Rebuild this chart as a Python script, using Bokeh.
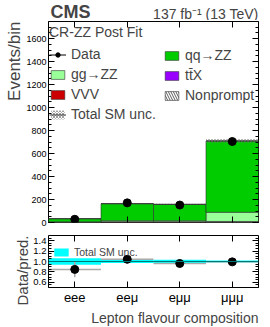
import numpy as np
from bokeh.plotting import figure
from bokeh.layouts import column
from bokeh.models import (Range1d, FixedTicker, SingleIntervalTicker, LinearAxis,
                          Legend, LegendItem, Label, Title, Span, PrintfTickFormatter,
                          CustomJSTickFormatter, CustomLabelingPolicy)
from bokeh.embed import file_html
from bokeh.resources import INLINE

# ---------------- data ----------------
categories = ["eee", "eeμ", "eμμ", "μμμ"]
data = [28, 171, 152, 705]
data_err = [5, 13, 12, 27]
qqzz = [27, 149, 143, 621]
ggzz = [3, 9, 9, 80]
ttx = [0.5, 2, 2, 3]
vvv = [0.5, 1, 1, 2]
nonprompt = [2, 3, 3, 4]
tot_unc = [2, 5, 5, 14]

FONT = "Liberation Sans"

n = len(categories)
left = np.arange(n, dtype=float)
right = left + 1.0
centers = left + 0.5


def style_axis(ax, labels=True, size="9px"):
    ax.major_tick_in = 6
    ax.major_tick_out = 0
    ax.minor_tick_in = 3
    ax.minor_tick_out = 0
    ax.axis_line_color = None
    ax.major_tick_line_color = "black"
    ax.minor_tick_line_color = "black"
    ax.major_label_text_font = FONT
    ax.major_label_text_color = "black"
    ax.major_label_standoff = 2
    if labels:
        ax.major_label_text_font_size = size
    else:
        ax.formatter = CustomJSTickFormatter(code="return ''")
        ax.major_label_policy = CustomLabelingPolicy(
            code="const ids = Array.from(indices); for (const i of ids) indices.unset(i); return indices;")
        ax.major_label_text_font_size = "1px"
        ax.major_label_standoff = 0


# ---------------- header (CMS / luminosity) ----------------
hdr = figure(width=270, height=20, x_range=Range1d(0, n), y_range=Range1d(0, 20),
             output_backend="svg", toolbar_location=None, title=None,
             x_axis_location=None, y_axis_location=None,
             min_border_left=48, min_border_right=12, min_border_top=0, min_border_bottom=0)
hdr.grid.visible = False
hdr.outline_line_color = None
hdr.add_layout(Label(x=0, y=9, text="CMS", text_font=FONT, text_font_style="bold",
                     text_font_size="18px", x_offset=2, text_baseline="middle"))
hdr.add_layout(Label(x=n, y=7, text="137 fb⁻¹ (13 TeV)", text_font=FONT,
                     text_font_size="14px", text_align="right", text_baseline="middle"))

# ---------------- main panel ----------------
p = figure(width=270, height=208, x_range=hdr.x_range, y_range=Range1d(0, 1750),
           output_backend="svg", toolbar_location=None,
           min_border_left=48, min_border_right=12, min_border_top=1, min_border_bottom=6)
p.xgrid.visible = False
p.ygrid.visible = False
p.outline_line_color = "black"
p.background_fill_color = "white"
p.border_fill_color = "white"

p.xaxis.ticker = FixedTicker(ticks=list(centers), minor_ticks=[])
style_axis(p.xaxis[0], labels=False)
p.yaxis.ticker = SingleIntervalTicker(interval=200, num_minor_ticks=4)
style_axis(p.yaxis[0], labels=True, size="9px")

ax_top = LinearAxis(ticker=FixedTicker(ticks=list(centers), minor_ticks=[]))
style_axis(ax_top, labels=False)
p.add_layout(ax_top, "above")
ax_right = LinearAxis(ticker=SingleIntervalTicker(interval=200, num_minor_ticks=4))
style_axis(ax_right, labels=False)
p.add_layout(ax_right, "right")

# stacked components (bottom to top)
components = [
    ("Nonprompt", nonprompt, "white", "left_diagonal_line"),
    ("VVV", vvv, "#cc0000", None),
    ("tt̄X", ttx, "#9900ff", None),
    ("gg→ZZ", ggzz, "#99ff99", None),
    ("qq→ZZ", qqzz, "#00cc00", None),
]
bottom = np.zeros(n)
rend = {}
for name, vals, col, hatch in components:
    top = bottom + np.array(vals, dtype=float)
    kw = dict(left=left, right=right, bottom=bottom, top=top,
              fill_color=col, line_color="#333333", line_width=0.6)
    if hatch:
        kw.update(hatch_pattern=hatch, hatch_color="#333333", hatch_scale=5, hatch_weight=0.8)
    rend[name] = p.quad(**kw)
    bottom = top
total = bottom

unc = np.array(tot_unc, dtype=float)
unc_r = p.quad(left=left, right=right, bottom=total - unc, top=total + unc,
               fill_color=None, line_color=None, hatch_pattern="diagonal_cross",
               hatch_color="#777777", hatch_scale=3, hatch_weight=0.7)
tot_r = p.segment(x0=left, x1=right, y0=total, y1=total, line_color="#333333", line_width=1)

d = np.array(data, dtype=float)
de = np.array(data_err, dtype=float)
err_r = p.segment(x0=centers, x1=centers, y0=d - de, y1=d + de, line_color="black", line_width=1)
dot_r = p.scatter(x=centers, y=d, size=8, marker="circle", color="black")

leg_left = Legend(items=[
    LegendItem(label="Data", renderers=[err_r, dot_r]),
    LegendItem(label="gg→ZZ", renderers=[rend["gg→ZZ"]]),
    LegendItem(label="VVV", renderers=[rend["VVV"]]),
    LegendItem(label="Total SM unc.", renderers=[unc_r, tot_r]),
], location=(1, 100), title="CR-ZZ Post Fit")
leg_right = Legend(items=[
    LegendItem(label="qq→ZZ", renderers=[rend["qq→ZZ"]]),
    LegendItem(label="tt̄X", renderers=[rend["tt̄X"]]),
    LegendItem(label="Nonprompt", renderers=[rend["Nonprompt"]]),
], location=(115, 119))
for lg in (leg_left, leg_right):
    lg.background_fill_alpha = 0
    lg.border_line_color = None
    lg.label_text_font = FONT
    lg.label_text_font_size = "14px"
    lg.title_text_font = FONT
    lg.title_text_font_size = "14px"
    lg.title_text_font_style = "normal"
    lg.title_standoff = 6
    lg.glyph_width = 17
    lg.glyph_height = 11
    lg.label_height = 12
    lg.label_standoff = 5
    lg.spacing = 4
    lg.padding = 6
    lg.margin = 0
leg_right.padding = 0
p.add_layout(leg_left)
p.add_layout(leg_right)

p.add_layout(Title(text="Events/bin", align="right", text_font=FONT, text_font_size="17px",
                   text_font_style="normal", standoff=0), "left")

# ---------------- ratio panel ----------------
r = figure(width=270, height=98, x_range=hdr.x_range, y_range=Range1d(0.5, 1.5),
           output_backend="svg", toolbar_location=None,
           min_border_left=48, min_border_right=12, min_border_top=7, min_border_bottom=39)
r.xgrid.visible = False
r.ygrid.visible = False
r.outline_line_color = "black"
r.background_fill_color = "white"
r.border_fill_color = "white"
r.xaxis.ticker = FixedTicker(ticks=list(centers), minor_ticks=[])
r.xaxis.major_label_overrides = {float(c): lab for c, lab in zip(centers, categories)}
style_axis(r.xaxis[0], labels=True, size="13px")
r.yaxis.ticker = SingleIntervalTicker(interval=0.2, num_minor_ticks=4)
r.yaxis.formatter = PrintfTickFormatter(format="%.1f")
style_axis(r.yaxis[0], labels=True, size="9.5px")
rt = LinearAxis(ticker=FixedTicker(ticks=list(centers), minor_ticks=[]))
style_axis(rt, labels=False)
r.add_layout(rt, "above")
rr = LinearAxis(ticker=SingleIntervalTicker(interval=0.2, num_minor_ticks=4))
style_axis(rr, labels=False)
r.add_layout(rr, "right")

rel = unc / total
band_r = r.quad(left=left, right=right, bottom=1 - rel, top=1 + rel,
                fill_color="#00ffff", line_color=None)
r.add_layout(Span(location=1.0, dimension="width", line_color="#007777", line_width=1))
ratio = d / total
ratio_err = de / total
r.segment(x0=left, x1=right, y0=ratio, y1=ratio, line_color="#aaaaaa", line_width=1.5)
r.segment(x0=centers, x1=centers, y0=ratio - ratio_err, y1=ratio + ratio_err,
          line_color="#aaaaaa", line_width=1.5)
r.scatter(x=centers, y=ratio, size=8, marker="circle", color="black")

leg_r = Legend(items=[LegendItem(label="Total SM unc.", renderers=[band_r])], location=(4, 29))
leg_r.background_fill_alpha = 0
leg_r.border_line_color = None
leg_r.label_text_font = FONT
leg_r.label_text_font_size = "10.5px"
leg_r.glyph_width = 18
leg_r.glyph_height = 10
leg_r.label_height = 10
leg_r.label_standoff = 4
leg_r.padding = 6
leg_r.margin = 0
r.add_layout(leg_r)

r.add_layout(Title(text="Data/pred.", align="right", text_font=FONT, text_font_size="15px",
                   text_font_style="normal", standoff=0), "left")
r.add_layout(Title(text="Lepton flavour composition", align="right", text_font=FONT,
                   text_font_size="14px", text_font_style="normal", standoff=0), "below")

layout = column(hdr, p, r)
open("out.html", "w").write(file_html(layout, INLINE))
